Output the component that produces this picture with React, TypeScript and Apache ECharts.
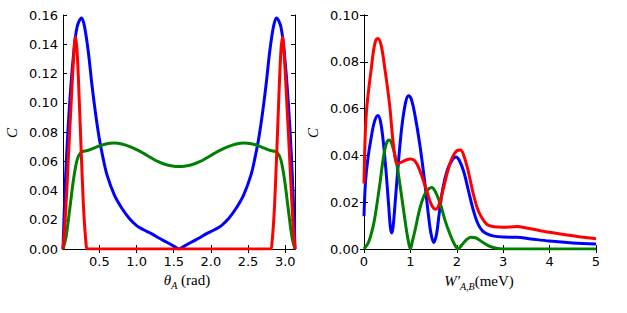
import React, { useEffect, useRef } from 'react';
import * as echarts from 'echarts';

// Left panel: C vs theta_A (rad)
const leftBlue: [number, number][] = [
  [0.01, 0], [0.03, 0.03], [0.06, 0.065], [0.1, 0.1], [0.15, 0.132], [0.2, 0.152], [0.26, 0.158],
  [0.3, 0.152], [0.35, 0.135], [0.4, 0.112], [0.45, 0.092], [0.5, 0.075], [0.55, 0.062], [0.6, 0.051],
  [0.7, 0.037], [0.8, 0.028], [0.9, 0.021], [1.0, 0.016], [1.1, 0.013], [1.2, 0.0105], [1.3, 0.0075],
  [1.4, 0.0048], [1.5, 0.002], [1.5708, 0],
  [1.6416, 0.002], [1.7416, 0.0048], [1.8416, 0.0075], [1.9416, 0.0105], [2.0416, 0.013], [2.1416, 0.016],
  [2.2416, 0.021], [2.3416, 0.028], [2.4416, 0.037], [2.5416, 0.051], [2.5916, 0.062], [2.6416, 0.075],
  [2.6916, 0.092], [2.7416, 0.112], [2.7916, 0.135], [2.8416, 0.152], [2.8816, 0.158], [2.9416, 0.152],
  [2.9916, 0.132], [3.0416, 0.1], [3.0816, 0.065], [3.1116, 0.03], [3.1316, 0],
];
const leftGreen: [number, number][] = [
  [0.01, 0], [0.05, 0.008], [0.1, 0.027], [0.15, 0.047], [0.2, 0.061], [0.25, 0.066], [0.3, 0.067],
  [0.35, 0.0675], [0.4, 0.0685], [0.5, 0.0705], [0.6, 0.072], [0.7, 0.0724], [0.8, 0.0718], [0.9, 0.0702],
  [1.0, 0.068], [1.1, 0.0652], [1.2, 0.0622], [1.3, 0.0595], [1.4, 0.0576], [1.5, 0.0566], [1.5708, 0.0564],
  [1.6416, 0.0566], [1.7416, 0.0576], [1.8416, 0.0595], [1.9416, 0.0622], [2.0416, 0.0652], [2.1416, 0.068],
  [2.2416, 0.0702], [2.3416, 0.0718], [2.4416, 0.0724], [2.5416, 0.072], [2.6416, 0.0705], [2.7416, 0.0685],
  [2.7916, 0.0675], [2.8416, 0.067], [2.8916, 0.066], [2.9416, 0.061], [2.9916, 0.047], [3.0416, 0.027],
  [3.0916, 0.008], [3.1316, 0],
];
const leftRed: [number, number][] = [
  [0.01, 0], [0.04, 0.02], [0.08, 0.06], [0.12, 0.1], [0.15, 0.128], [0.177, 0.145], [0.2, 0.135],
  [0.23, 0.1], [0.26, 0.06], [0.29, 0.025], [0.32, 0.004], [0.34, 0], [1.5708, 0],
  [2.8016, 0], [2.8216, 0.004], [2.8516, 0.025], [2.8816, 0.06], [2.9116, 0.1], [2.9416, 0.135],
  [2.9646, 0.145], [2.9916, 0.128], [3.0216, 0.1], [3.0616, 0.06], [3.1016, 0.02], [3.1316, 0],
];

// Right panel: C vs W'_{A,B} (meV)
const rightRed: [number, number][] = [
  [0, 0.028], [0.02, 0.045], [0.05, 0.058], [0.1, 0.068], [0.15, 0.076], [0.2, 0.084], [0.25, 0.089],
  [0.3, 0.09], [0.37, 0.087], [0.45, 0.077], [0.55, 0.062], [0.62, 0.047], [0.68, 0.038], [0.72, 0.0365],
  [0.8, 0.037], [0.9, 0.038], [1.0, 0.0385], [1.08, 0.038], [1.15, 0.036], [1.25, 0.031], [1.35, 0.025],
  [1.45, 0.019], [1.55, 0.017], [1.62, 0.019], [1.7, 0.025], [1.8, 0.033], [1.9, 0.039], [2.0, 0.042],
  [2.08, 0.0423], [2.15, 0.04], [2.25, 0.033], [2.35, 0.024], [2.45, 0.017], [2.55, 0.013], [2.65, 0.0105],
  [2.8, 0.0095], [3.0, 0.0093], [3.3, 0.0096], [3.5, 0.009], [3.8, 0.0078], [4.2, 0.0065], [4.6, 0.0053],
  [5.0, 0.0044],
];
const rightBlue: [number, number][] = [
  [0, 0.014], [0.03, 0.028], [0.08, 0.038], [0.15, 0.047], [0.22, 0.054], [0.3, 0.057], [0.36, 0.054],
  [0.42, 0.045], [0.48, 0.032], [0.53, 0.019], [0.57, 0.009], [0.6, 0.0068], [0.63, 0.01], [0.68, 0.022],
  [0.75, 0.039], [0.82, 0.053], [0.9, 0.063], [0.96, 0.0655], [1.02, 0.064], [1.1, 0.057], [1.2, 0.045],
  [1.3, 0.03], [1.38, 0.016], [1.44, 0.007], [1.5, 0.0028], [1.56, 0.006], [1.62, 0.015], [1.7, 0.026],
  [1.8, 0.034], [1.9, 0.038], [1.98, 0.0393], [2.05, 0.038], [2.15, 0.033], [2.25, 0.025], [2.35, 0.017],
  [2.45, 0.011], [2.55, 0.0078], [2.65, 0.0065], [2.8, 0.0055], [3.0, 0.0051], [3.3, 0.005], [3.6, 0.0043],
  [4.0, 0.0034], [4.5, 0.0026], [5.0, 0.0021],
];
const rightGreen: [number, number][] = [
  [0, 0], [0.1, 0.003], [0.2, 0.01], [0.27, 0.018], [0.35, 0.029], [0.41, 0.038], [0.48, 0.045],
  [0.54, 0.0466], [0.6, 0.045], [0.7, 0.037], [0.8, 0.024], [0.9, 0.01], [0.95, 0.004], [1.0, 0],
  [1.04, 0.003], [1.1, 0.008], [1.2, 0.017], [1.3, 0.023], [1.4, 0.0258], [1.46, 0.0263], [1.55, 0.024],
  [1.65, 0.019], [1.75, 0.012], [1.85, 0.0065], [1.95, 0.002], [2.03, 0], [2.1, 0.0015], [2.2, 0.0038],
  [2.3, 0.005], [2.4, 0.0048], [2.55, 0.003], [2.7, 0.0012], [2.85, 0.0003], [3.0, 0], [5.0, 0],
];

const leftXTicks = [0.5, 1.0, 1.5, 2.0, 2.5, 3.0];

const BLUE = '#0000ff';
const RED = '#ff0000';
const GREEN = '#008000';

export default function App() {
  const ref = useRef<HTMLDivElement>(null);
  useEffect(() => {
    if (!ref.current) return;
    const chart = echarts.init(ref.current, undefined, { renderer: 'svg' });
    const labelFont = { fontFamily: 'DejaVu Sans', fontSize: 13, color: '#000' };
    const tick = { show: true, inside: true, length: 4, lineStyle: { color: '#000', width: 1 } };
    const line = { show: true, lineStyle: { color: '#000', width: 1 } };
    const mkSeries = (data: [number, number][], color: string, idx: number) => ({
      type: 'line',
      xAxisIndex: idx,
      yAxisIndex: idx,
      data,
      smooth: 0.35,
      showSymbol: false,
      symbol: 'none',
      lineStyle: { color, width: 3 },
      itemStyle: { color },
      clip: true,
      z: 2,
    });
    const serifRich = {
      i: { font: 'italic 15px "Liberation Serif", serif', lineHeight: 20 },
      s: { font: 'italic 10px "Liberation Serif", serif', lineHeight: 9, verticalAlign: 'bottom' },
      r: { font: '15px "Liberation Serif", serif', lineHeight: 20 },
    };
    chart.setOption({
      animation: false,
      backgroundColor: '#fff',
      grid: [
        { left: 63, top: 15, width: 232, height: 234 },
        { left: 364, top: 15, width: 232, height: 234 },
      ],
      xAxis: [
        {
          type: 'value', gridIndex: 0, min: 0.01, max: 3.1316, position: 'bottom',
          axisLine: line, splitLine: { show: false },
          axisTick: { ...tick, customValues: leftXTicks },
          axisLabel: { ...labelFont, margin: 6, customValues: leftXTicks, formatter: (v: number) => v.toFixed(1) },
        },
        {
          type: 'value', gridIndex: 1, min: 0, max: 5, interval: 1, position: 'bottom',
          axisLine: line, splitLine: { show: false }, axisTick: tick,
          axisLabel: { ...labelFont, margin: 6, formatter: (v: number) => String(v) },
        },
        {
          type: 'value', gridIndex: 0, min: 0.01, max: 3.1316, position: 'top',
          axisLine: line, splitLine: { show: false },
          axisTick: { ...tick, customValues: leftXTicks },
          axisLabel: { show: false },
        },
        {
          type: 'value', gridIndex: 1, min: 0, max: 5, interval: 1, position: 'top',
          axisLine: line, splitLine: { show: false }, axisTick: tick, axisLabel: { show: false },
        },
      ],
      yAxis: [
        {
          type: 'value', gridIndex: 0, min: 0, max: 0.16, interval: 0.02, position: 'left',
          axisLine: line, splitLine: { show: false }, axisTick: tick,
          axisLabel: { ...labelFont, margin: 5, formatter: (v: number) => v.toFixed(2) },
        },
        {
          type: 'value', gridIndex: 1, min: 0, max: 0.1, interval: 0.02, position: 'left',
          axisLine: line, splitLine: { show: false }, axisTick: tick,
          axisLabel: { ...labelFont, margin: 5, formatter: (v: number) => v.toFixed(2) },
        },
        {
          type: 'value', gridIndex: 0, min: 0, max: 0.16, interval: 0.02, position: 'right',
          axisLine: line, splitLine: { show: false }, axisTick: tick, axisLabel: { show: false },
        },
        {
          type: 'value', gridIndex: 1, min: 0, max: 0.1, interval: 0.02, position: 'right',
          axisLine: line, splitLine: { show: false }, axisTick: tick, axisLabel: { show: false },
        },
      ],
      series: [
        mkSeries(leftBlue, BLUE, 0),
        mkSeries(leftGreen, GREEN, 0),
        mkSeries(leftRed, RED, 0),
        mkSeries(rightBlue, BLUE, 1),
        mkSeries(rightGreen, GREEN, 1),
        mkSeries(rightRed, RED, 1),
      ],
      graphic: [
        {
          type: 'text', x: 12, y: 133, rotation: Math.PI / 2,
          style: { text: 'C', fill: '#000', font: 'italic 15px "Liberation Serif", serif', textAlign: 'center', textVerticalAlign: 'middle' },
        },
        {
          type: 'text', x: 313, y: 133, rotation: Math.PI / 2,
          style: { text: 'C', fill: '#000', font: 'italic 15px "Liberation Serif", serif', textAlign: 'center', textVerticalAlign: 'middle' },
        },
        {
          type: 'text', x: 187, y: 280,
          style: {
            text: '{i|θ}{s|A}{r| (rad)}', fill: '#000', textAlign: 'center', textVerticalAlign: 'middle',
            rich: serifRich,
          },
        },
        {
          type: 'text', x: 479, y: 281,
          style: {
            text: '{i|W′}{s|A,B}{r|(meV)}', fill: '#000', textAlign: 'center', textVerticalAlign: 'middle',
            rich: serifRich,
          },
        },
      ],
    });
    return () => chart.dispose();
  }, []);
  return <div ref={ref} style={{ position: 'fixed', left: 0, top: 0, width: 627, height: 313 }} />;
}
